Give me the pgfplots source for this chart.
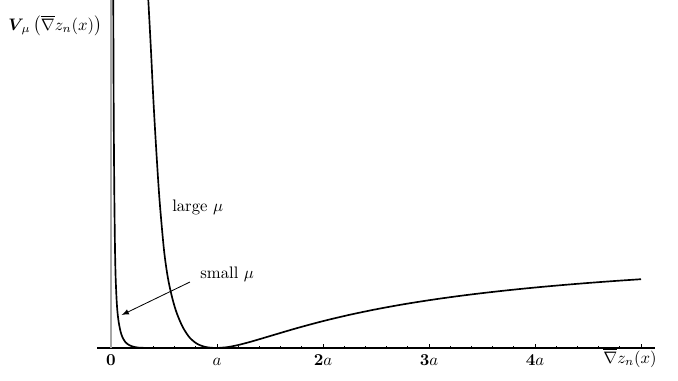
\documentclass[border=0pt]{standalone}
\usepackage{pgfplots}
\pgfplotsset{compat=1.18}
\usepackage{amsmath}
\begin{document}
\begin{tikzpicture}[x=1pt,y=1pt]
\begin{axis}[
  name=ax,
  at={(0,0)}, anchor=south west,
  scale only axis,
  width=334.8pt, height=208.8pt,
  xmin=-0.132, xmax=5.132,
  ymin=0, ymax=3.48,
  axis lines=middle,
  axis line style={-},
  x axis line style={black, line width=0.8pt},
  y axis line style={gray!70, line width=0.9pt},
  hide obscured x ticks=false,
  xtick={0,1,2,3,4,5},
  xticklabels={$\mathbf{0}$,$a$,$\mathbf{2}a$,$\mathbf{3}a$,$\mathbf{4}a$,},
  minor x tick num=4,
  ytick=\empty,
  tick align=inside,
  major tick length=2.6pt,
  minor tick length=1.4pt,
  tick style={black, line width=0.5pt},
  xticklabel style={text height=1.6ex, text depth=0.2ex, yshift=0pt},
]
% small mu
\addplot[black, line width=1pt, smooth, tension=0.5] coordinates {
 (0.020,3.70) (0.0215,3.48) (0.025,2.5) (0.028,1.98) (0.032,1.48)
 (0.038,0.98) (0.044,0.70) (0.053,0.48) (0.062,0.35) (0.074,0.25)
 (0.089,0.17) (0.106,0.113) (0.135,0.06) (0.17,0.03) (0.215,0.012)
 (0.26,0.004) (0.33,0.001) (0.45,0)
};
\addplot[black, line width=1pt] coordinates {(0.45,0) (1.0,0)};
% common right branch
\addplot[black, line width=1pt, smooth] coordinates {
 (1.0,0) (1.1,0.0089) (1.2,0.0299) (1.3,0.0573) (1.4,0.0878) (1.5,0.1194)
 (1.75,0.1975) (2.0,0.2688) (2.25,0.3318) (2.5,0.387) (2.75,0.4354)
 (3.0,0.4778) (3.25,0.5153) (3.5,0.5485) (3.75,0.5781) (4.0,0.6047)
 (4.25,0.6286) (4.5,0.6503) (4.75,0.6700) (5.0,0.688)
};
% large mu
\addplot[black, line width=1pt, smooth, tension=0.5] coordinates {
 (0.341,3.70) (0.352,3.48) (0.376,3.0) (0.400,2.48) (0.427,1.98)
 (0.458,1.48) (0.500,0.98) (0.537,0.70) (0.578,0.50) (0.620,0.35)
 (0.675,0.213) (0.730,0.12) (0.765,0.08) (0.815,0.04) (0.88,0.013)
 (0.94,0.003) (1.0,0)
};
\draw[-latex, line width=0.5pt] (axis cs:0.745,0.66) -- (axis cs:0.101,0.33);
\coordinate (ylab) at (axis cs:-0.528,3.22);
\coordinate (xlab) at (axis cs:4.896,-0.10);
\coordinate (small) at (axis cs:0.84,0.74);
\coordinate (large) at (axis cs:0.575,1.41);
\end{axis}
\node at (ylab) {$\boldsymbol{V}_{\!\mu}\,\bigl(\overline{\nabla}z_n(x)\bigr)$};
\node at (xlab) {$\overline{\nabla}z_n(x)$};
\node[anchor=west, inner sep=0pt] at (small) {small $\mu$};
\node[anchor=west, inner sep=0pt] at (large) {large $\mu$};
\pgfresetboundingbox
\path[use as bounding box] (ax.south west) ++(-97*0.6pt,-32*0.6pt) rectangle ++(678*0.6pt,380*0.6pt);
\end{tikzpicture}
\end{document}
